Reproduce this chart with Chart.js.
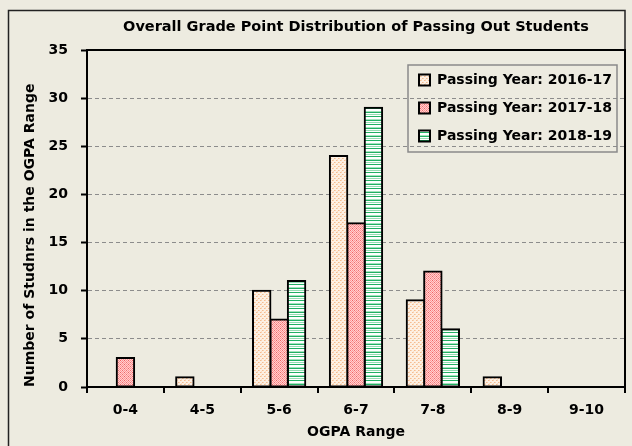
<!DOCTYPE html>
<html><head><meta charset="utf-8">
<script src="https://cdn.jsdelivr.net/npm/chart.js@4.4.1/dist/chart.umd.min.js"></script>
<style>html,body{margin:0;padding:0;background:#EDEBE0;} #wrap{width:632px;height:446px;position:relative;}</style>
</head><body><div id="wrap"><canvas id="c"></canvas></div>
<script>
const categories = ['0-4','4-5','5-6','6-7','7-8','8-9','9-10'];
const seriesNames = ['Passing Year: 2016-17','Passing Year: 2017-18','Passing Year: 2018-19'];
const values2016 = [0,1,10,24,9,1,0];
const values2017 = [3,0,7,17,12,0,0];
const values2018 = [0,0,11,29,6,0,0];
const yMin = 0, yMax = 35, yStep = 5;
const titleText = 'Overall Grade Point Distribution of Passing Out Students';
const xTitle = 'OGPA Range';
const yTitle = 'Number of Studnrs in the OGPA Range';

const FONT = "'DejaVu Sans', Verdana, sans-serif";
const canvas = document.getElementById('c');
const mainCtx = canvas.getContext('2d');

function makePattern(w, h, painter) {
  const c = document.createElement('canvas'); c.width = w; c.height = h;
  const g = c.getContext('2d'); painter(g);
  return mainCtx.createPattern(c, 'repeat');
}
function px(g, x, y, col) { g.fillStyle = col; g.fillRect(x, y, 1, 1); }

const peach = makePattern(4, 4, g => {
  g.fillStyle = '#FDF0E3'; g.fillRect(0,0,4,4);
  px(g,0,0,'#F5BC90'); px(g,1,0,'#F9D2B0');
  px(g,2,2,'#F5BC90'); px(g,3,2,'#F9D2B0');
  px(g,1,3,'#FBDFC6');
});
const pink = makePattern(4, 4, g => {
  g.fillStyle = '#FFD0D0'; g.fillRect(0,0,4,4);
  for (let y=0;y<4;y++) for (let x=0;x<4;x++) if ((x+y)%2===0) px(g,x,y,'#FF9494');
  px(g,0,0,'#EE6464'); px(g,2,2,'#F07070');
});
const green = makePattern(1, 8, g => {
  const rows = ['#22B063','#FFFFFF','#95DDB3','#FFFFFF','#22B063','#FFFFFF','#FFFFFF','#A5E3BF'];
  rows.forEach((c,i)=>px(g,0,i,c));
});

const bgPlugin = {
  id: 'bgFrame',
  beforeDraw(chart) {
    const c = chart.ctx;
    c.save();
    c.fillStyle = '#EDEBE0'; c.fillRect(0,0,chart.width,chart.height);
    c.strokeStyle = '#222'; c.lineWidth = 1.5;
    c.beginPath();
    c.moveTo(8.5, 446); c.lineTo(8.5, 10.5); c.lineTo(625, 10.5); c.lineTo(625, 50);
    c.stroke();
    c.restore();
  },
  afterLayout(chart) {
    const lg = chart.legend;
    if (lg) { lg.left = 405; lg.top = 59; lg.right = 625; lg.bottom = 180; lg.width = 220; lg.height = 121; }
  },
  afterDraw(chart) {
    const c = chart.ctx, a = chart.chartArea;
    c.save();
    c.strokeStyle = '#000'; c.lineWidth = 2;
    c.strokeRect(a.left, a.top, a.right - a.left, a.bottom - a.top);
    c.strokeStyle = '#8a8a8a'; c.lineWidth = 1.5;
    c.strokeRect(408, 65, 209, 87);
    c.restore();
  }
};

new Chart(canvas, {
  type: 'bar',
  data: {
    labels: categories,
    datasets: [
      { label: seriesNames[0], data: values2016, backgroundColor: peach },
      { label: seriesNames[1], data: values2017, backgroundColor: pink },
      { label: seriesNames[2], data: values2018, backgroundColor: green }
    ]
  },
  options: {
    responsive: true, maintainAspectRatio: false, animation: false, devicePixelRatio: 1,
    layout: { padding: { left: 0, right: 7, top: 0, bottom: 0 } },
    datasets: { bar: { borderColor: '#000', borderWidth: 2, borderSkipped: false, inflateAmount: 1, categoryPercentage: 0.68, barPercentage: 1.0 } },
    plugins: {
      title: { display: true, fullSize: false, text: titleText, color: '#000',
        font: { family: FONT, size: 14.5, weight: 'bold' }, padding: { top: 19, bottom: 13.6 } },
      legend: { display: true, position: 'chartArea', align: 'start',
        labels: { color: '#000', font: { family: FONT, size: 14, weight: 'bold' }, boxWidth: 11, boxHeight: 11, padding: 14 } },
      tooltip: { enabled: false }
    },
    scales: {
      x: {
        grid: { display: true, drawOnChartArea: false, drawTicks: true, tickLength: 6, color: '#000', lineWidth: 2, tickWidth: 2, tickColor: '#000' },
        border: { display: true, color: '#000', width: 2 },
        ticks: { color: '#000', padding: 9, font: { family: FONT, size: 14, weight: 'bold' } },
        title: { display: true, text: xTitle, color: '#000', font: { family: FONT, size: 14, weight: 'bold' }, padding: { top: 0, bottom: 5 } },
        afterFit(s) { s.height = 59; }
      },
      y: {
        min: yMin, max: yMax,
        grid: { display: true, drawOnChartArea: true, drawTicks: true, tickLength: 6, color: '#8c8c8c', lineWidth: 1, tickColor: '#000', tickWidth: 2, tickBorderDash: [] },
        border: { display: true, color: '#000', width: 2, dash: [4, 3] },
        ticks: { stepSize: yStep, color: '#000', padding: 13, font: { family: FONT, size: 14, weight: 'bold' } },
        title: { display: true, text: yTitle, align: 'start', color: '#000', font: { family: FONT, size: 14, weight: 'bold' }, padding: { top: 22, bottom: 0 } },
        afterFit(s) { s.width = 87; }
      }
    }
  },
  plugins: [bgPlugin]
});
</script>
</body></html>
